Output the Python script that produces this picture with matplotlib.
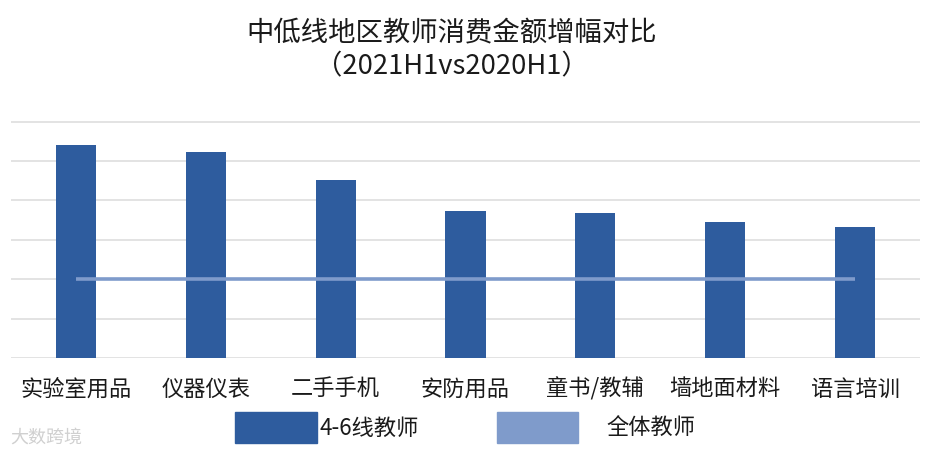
import matplotlib.pyplot as plt
from matplotlib.patches import Rectangle

plt.rcParams['font.family'] = ['Noto Sans CJK SC', 'DejaVu Sans']

# 品类与增幅（相对值，按网格读出）
categories = ['实验室用品', '仪器仪表', '二手手机', '安防用品', '童书/教辅', '墙地面材料', '语言培训']
low_tier = [5.41, 5.23, 4.52, 3.73, 3.68, 3.45, 3.32]   # 4-6线教师
all_teachers = [2.0, 2.0, 2.0, 2.0, 2.0, 2.0, 2.0]       # 全体教师

bar_color = '#2E5C9E'
line_color = '#7F9BCB'
txt = '#1a1a1a'

W, H = 934, 457
fig = plt.figure(figsize=(W / 100, H / 100), dpi=100)

ymax = 6.05
bottom_px, top6_px = 358, 121.7
ax_h = (bottom_px - top6_px) / 6 * ymax
ax = fig.add_axes([11 / W, (H - bottom_px) / H, (920 - 11) / W, ax_h / H])

x = range(len(categories))
ax.bar(x, low_tier, width=0.31, color=bar_color, zorder=3)
ax.plot(x, all_teachers, color=line_color, lw=2.6, zorder=4, solid_capstyle='butt')

ax.set_xlim(-0.5, len(categories) - 0.5)
ax.set_ylim(0, ymax)
ax.set_yticks(range(0, 7))
ax.yaxis.grid(True, color='#e3e3e3', lw=1.4, zorder=0)
ax.tick_params(axis='y', left=False, labelleft=False)
ax.tick_params(axis='x', length=0, pad=14, labelsize=16, labelcolor=txt)
ax.set_xticks(list(x))
ax.set_xticklabels(categories)
for s in ax.spines.values():
    s.set_visible(False)

fig.text(452 / W, 1 - 33 / H, '中低线地区教师消费金额增幅对比', ha='center', va='center',
         fontsize=19.7, color=txt)
fig.text(452 / W, 1 - 67 / H, '（2021H1vs2020H1）', ha='center', va='center',
         fontsize=19.7, color=txt)

# 图例
fig.add_artist(Rectangle((235 / W, 1 - 443 / H), 82 / W, 31 / H, transform=fig.transFigure,
                         color=bar_color))
fig.text(320 / W, 1 - 428 / H, '4-6线教师', ha='left', va='center', fontsize=16, color=txt)
fig.add_artist(Rectangle((497 / W, 1 - 443 / H), 81 / W, 31 / H, transform=fig.transFigure,
                         color=line_color))
fig.text(606 / W, 1 - 428 / H, '全体教师', ha='left', va='center', fontsize=16, color=txt)

# 水印
fig.text(10 / W, 1 - 438 / H, '大数跨境', ha='left', va='center', fontsize=13,
         color='#d0d0d0')

fig.savefig('out.png', dpi=100)
